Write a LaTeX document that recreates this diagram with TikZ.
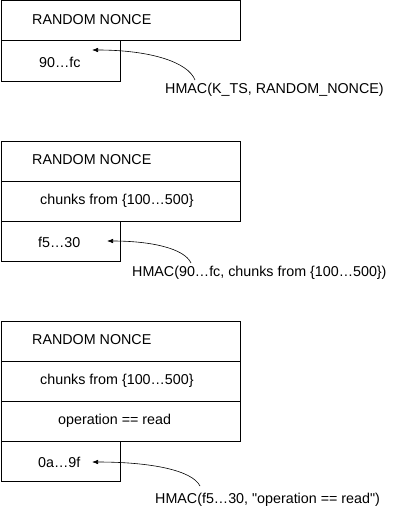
\documentclass[tikz,border=0pt]{standalone}
\usepackage{fontspec}
\setmainfont{Liberation Sans}
\usetikzlibrary{arrows.meta}
\begin{document}
\begin{tikzpicture}[x=1pt,y=-1pt,
  box/.style={draw, line width=0.9pt, anchor=north west, inner sep=0pt},
  wide/.style={box, minimum width=239.5pt, minimum height=40pt},
  small/.style={box, minimum width=119.5pt, minimum height=40pt},
  txt/.style={anchor=west, inner sep=0pt, font=\fontsize{14.3}{17}\selectfont},
  link/.style={line width=0.6pt, -{Latex[length=6pt,width=4.5pt]}}]
\useasboundingbox (0,0) rectangle (411,511);
% block 1
\node[wide] (a1) at (0.5,0.5) {};
\node[small] (a2) at (0.5,40.5) {};
\node[txt] (ta1) at (32,20) {RANDOM NONCE};
\node[txt] (ta2) at (39,62) {90…fc};
\node[txt] (la) at (165,90) {HMAC(K\_TS, RANDOM\_NONCE)};
\coordinate (sa) at (195,80);
\coordinate (ea) at (92,50);
\draw[link] (sa) .. controls (188,62) and (150,50) .. (ea);
% block 2
\node[wide] (b1) at (0.5,140.5) {};
\node[wide] (b2) at (0.5,180.5) {};
\node[small] (b3) at (0.5,220.5) {};
\node[txt] (tb1) at (32,160) {RANDOM NONCE};
\node[txt] (tb2) at (40,201) {chunks from \{100…500\}};
\node[txt] (tb3) at (38,242) {f5…30};
\node[txt] (lb) at (132,273) {HMAC(90…fc, chunks from \{100…500\})};
\coordinate (sb) at (191,263);
\coordinate (eb) at (107,241);
\draw[link] (sb) .. controls (184,248) and (150,241) .. (eb);
% block 3
\node[wide] (c1) at (0.5,320.5) {};
\node[wide] (c2) at (0.5,360.5) {};
\node[wide] (c3) at (0.5,400.5) {};
\node[small] (c4) at (0.5,440.5) {};
\node[txt] (tc1) at (32,340) {RANDOM NONCE};
\node[txt] (tc2) at (40,381) {chunks from \{100…500\}};
\node[txt] (tc3) at (58,421) {operation == read};
\node[txt] (tc4) at (38,462) {0a…9f};
\node[txt] (lc) at (155,500) {HMAC(f5…30, \textquotedbl operation == read\textquotedbl)};
\coordinate (sc) at (200,486);
\coordinate (ec) at (92,462);
\draw[link] (sc) .. controls (192,470) and (150,462) .. (ec);
\end{tikzpicture}
\end{document}
